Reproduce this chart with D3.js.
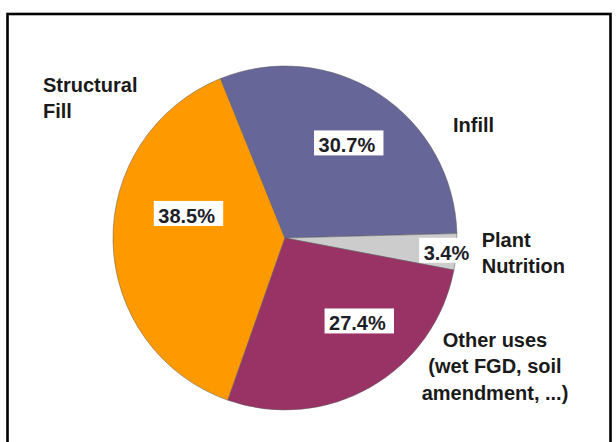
<!DOCTYPE html>
<html>
<head>
<meta charset="utf-8">
<script src="https://cdn.jsdelivr.net/npm/d3@7"></script>
<style>
  html, body { margin: 0; padding: 0; background: #fff; }
  svg { display: block; }
  text { font-family: "Liberation Sans", Arial, sans-serif; font-weight: bold; }
</style>
</head>
<body>
<svg id="chart" width="616" height="442"></svg>
<script>
// ---- data ----
const categories = ["Structural Fill", "Infill", "Plant Nutrition", "Other uses"];
const values = [38.5, 30.7, 3.4, 27.4];
const valueLabels = ["38.5%", "30.7%", "3.4%", "27.4%"];
const nameLines = [
  ["Structural", "Fill"],
  ["Infill"],
  ["Plant", "Nutrition"],
  ["Other uses", "(wet FGD, soil", "amendment, ...)"]
];
const colors = ["#FF9900", "#666699", "#CCCCCC", "#993366"];

// ---- layout ----
const W = 616, H = 442;
const cx = 285, cy = 238, R = 172;
const startDeg = -160.6;
// value-label positions: [angle (deg, clockwise from top), radius fraction]
const valuePos = [[284.3, 0.578], [33.9, 0.666], [94.3, 0.953], [138.1, 0.648]];
// name-label anchors: [x, first baseline, anchor]
const namePos = [[43, 91.7, "start"], [453, 132, "start"], [481.7, 246.7, "start"], [495, 346.7, "middle"]];
const lineGap = 26.5;

const svg = d3.select("#chart");

svg.append("rect")
  .attr("x", 7.5).attr("y", 14)
  .attr("width", 603).attr("height", 460)
  .attr("fill", "none").attr("stroke", "#000").attr("stroke-width", 2.6);

const color = d3.scaleOrdinal().domain(categories).range(colors);

const pie = d3.pie().sort(null).value(d => d.value)
  .startAngle(startDeg * Math.PI / 180)
  .endAngle(startDeg * Math.PI / 180 + 2 * Math.PI);

const data = categories.map((c, i) => ({ name: c, value: values[i], label: valueLabels[i], lines: nameLines[i], i }));
const arcs = pie(data);
const arc = d3.arc().innerRadius(0).outerRadius(R);

const g = svg.append("g").attr("transform", `translate(${cx},${cy})`);

g.selectAll("path.slice").data(arcs).join("path")
  .attr("class", "slice")
  .attr("d", arc)
  .attr("fill", d => color(d.data.name))
  .attr("stroke", "#5a5a5a")
  .attr("stroke-width", 0.7)
  .attr("stroke-opacity", 0.7);

// value labels with white boxes
arcs.forEach(d => {
  const [ang, frac] = valuePos[d.data.i];
  const a = ang * Math.PI / 180;
  const bx = Math.sin(a) * R * frac;
  const by = -Math.cos(a) * R * frac;
  const lg = g.append("g");
  const rect = lg.append("rect").attr("fill", "#fff");
  const t = lg.append("text")
    .attr("x", bx - 2).attr("y", by + 9.5)
    .attr("text-anchor", "middle")
    .attr("font-size", 20)
    .attr("fill", "#1e1e28")
    .text(d.data.label);
  const bb = t.node().getBBox();
  rect.attr("x", bb.x - 4.5).attr("width", bb.width + 12.5)
    .attr("y", by - 12.5).attr("height", 25);
});

// category name labels
data.forEach(d => {
  const [x, y0, anchor] = namePos[d.i];
  const t = svg.append("text")
    .attr("text-anchor", anchor)
    .attr("font-size", 20)
    .attr("fill", "#1a1a1a");
  d.lines.forEach((ln, k) => {
    t.append("tspan").attr("x", x).attr("y", y0 + k * lineGap).text(ln);
  });
});
</script>
</body>
</html>
